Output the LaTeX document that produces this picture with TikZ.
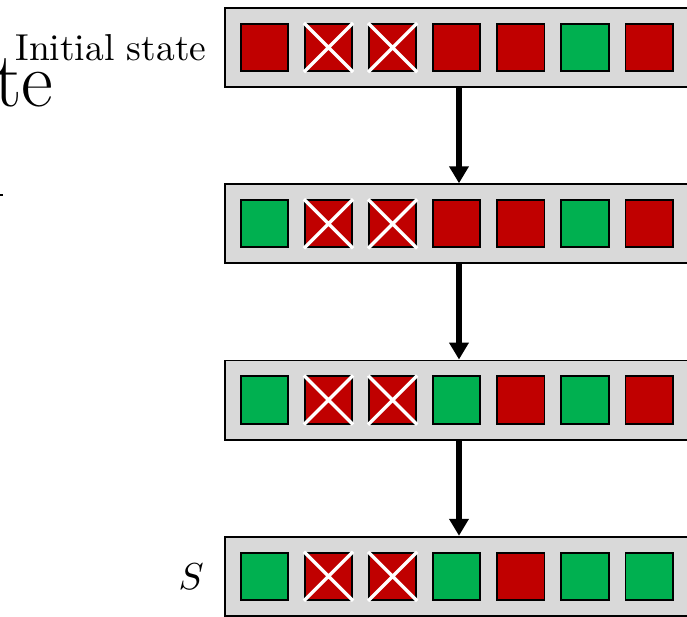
\documentclass[tikz,border=0pt]{standalone}
\usepackage{xcolor}
\usepackage{tikz}
\usetikzlibrary{arrows.meta,positioning}
\definecolor{cred}{HTML}{C00000}
\definecolor{cgreen}{HTML}{00B050}
\tikzstyle{statebox} = [rectangle, draw, line width=0.5pt, fill=gray!30, minimum width=124.6pt, minimum height=21.1pt]
\tikzstyle{cell} = [rectangle, draw, line width=0.5pt, minimum size=12.6pt, inner sep=0pt]
\tikzstyle{cross} = [draw=white, line width=0.9pt]
\tikzstyle{line} = [draw, line width=1.4pt, -{Triangle[length=4.5pt,width=5pt]}]

\begin{document}
\begin{tikzpicture}[node distance=47pt]
    \useasboundingbox (0,0) rectangle (183.2pt,-164.3pt);

    \node[statebox] (state1) at (122.4pt,-12.67pt) {};
    \node[statebox, below of=state1] (state2) {};
    \node[statebox, below of=state2] (state3) {};
    \node[statebox, below of=state3] (state4) {};

    \node[left=1.3pt of state1] (initial) {Initial state};
    \node[left=2pt of state4] (final) {$S$};
    \node[anchor=base east, inner sep=0pt, font=\huge] (title) at (14.4pt,-28.5pt) {te};
    \draw[line width=0.4pt] (-1pt,-52pt) -- (0.9pt,-52pt);

    % cells of each state, left to right
    \foreach \row/\cols in {1/{cred,cred,cred,cred,cred,cgreen,cred},
                            2/{cgreen,cred,cred,cred,cred,cgreen,cred},
                            3/{cgreen,cred,cred,cgreen,cred,cgreen,cred},
                            4/{cgreen,cred,cred,cgreen,cred,cgreen,cgreen}}
        \foreach \c [count=\i] in \cols
            \node[cell, fill=\c, anchor=west, xshift={4.1pt+(\i-1)*17.1pt}] (c\row-\i) at (state\row.west) {};

    % crossed out cells
    \foreach \row in {1,...,4}
        \foreach \i in {2,3}
            \path[cross] (c\row-\i.north west) -- (c\row-\i.south east)
                         (c\row-\i.north east) -- (c\row-\i.south west);

    \path[line] (state1) -- (state2);
    \path[line] (state2) -- (state3);
    \path[line] (state3) -- (state4);

\end{tikzpicture}
\end{document}
